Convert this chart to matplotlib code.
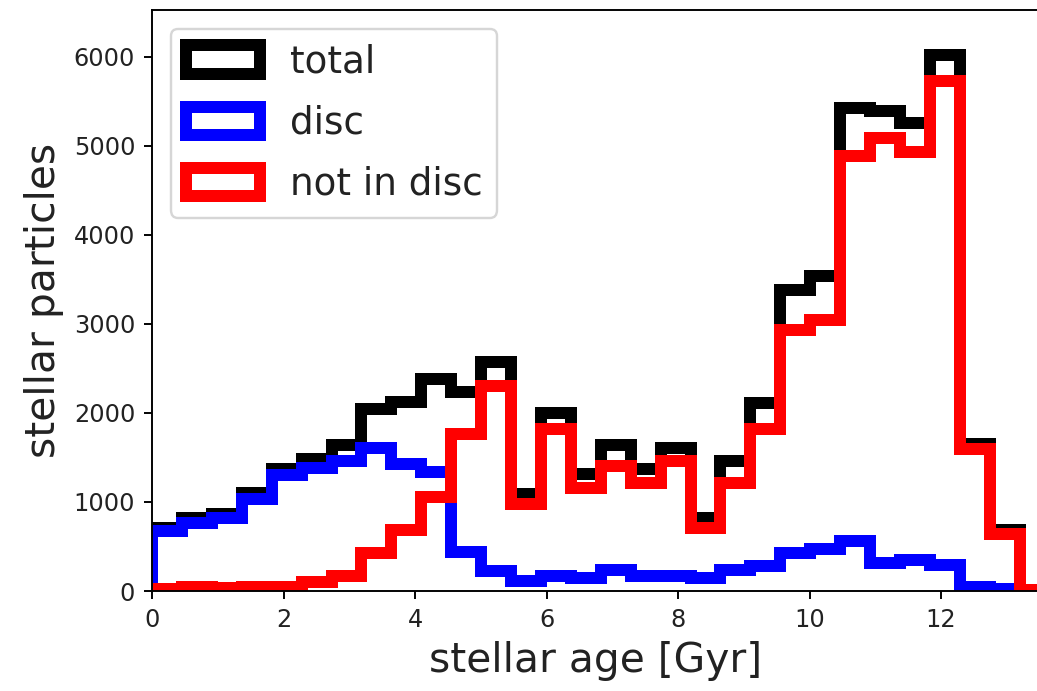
import numpy as np
import matplotlib
matplotlib.use('Agg')
import matplotlib.pyplot as plt

# Rango de edades y numero de bins del histograma
age_min, age_max = 0.0, 13.65
n_bins = 30

# Conteos por bin
total = [704, 824, 861, 1097, 1367, 1487, 1637, 2041, 2124, 2386,
         2236, 2573, 1094, 2004, 1311, 1637, 1367, 1611, 824, 1461,
         2116, 3382, 3539, 5430, 5393, 5254, 6022, 1648, 681, 15]
disc = [678, 760, 820, 1037, 1303, 1386, 1461, 1611, 1431, 1337,
        438, 225, 112, 169, 150, 232, 169, 169, 150, 232,
        281, 431, 468, 562, 318, 348, 288, 48, 19, 0]
not_disc = [26, 48, 30, 48, 48, 101, 169, 431, 681, 1060,
            1760, 2303, 974, 1816, 1161, 1404, 1217, 1461, 712, 1217,
            1816, 2936, 3048, 4885, 5092, 4925, 5725, 1592, 637, 15]

labels = ['total', 'disc', 'not in disc']
colors = ['black', 'blue', 'red']

bins = np.linspace(age_min, age_max, n_bins + 1)
centers = 0.5 * (bins[:-1] + bins[1:])

dpi = 172.8
fig = plt.figure(figsize=(1037 / dpi, 691 / dpi), dpi=dpi)
ax = fig.add_axes([0.1466, 0.1447, 0.856, 0.8408])

# Histogramas tipo escalon, usando los conteos como pesos
for vals, lab, col in zip([total, disc, not_disc], labels, colors):
    ax.hist(centers, bins=bins, weights=vals, histtype='step',
            color=col, lw=5, label=lab)

ax.set_xlim(0, 13.5)
ax.set_ylim(0, 6525)
ax.set_xticks([0, 2, 4, 6, 8, 10, 12])
ax.set_yticks([0, 1000, 2000, 3000, 4000, 5000, 6000])
ax.tick_params(labelcolor='#222222')

ax.set_xlabel('stellar age [Gyr]', fontsize=17, color='#222222')
ax.set_ylabel('stellar particles', fontsize=17, color='#222222')
leg = ax.legend(loc='upper left', fontsize=15.5, labelspacing=0.65,
                handleheight=0.8)
for t in leg.get_texts():
    t.set_color('#222222')

fig.savefig('out.png', dpi=dpi)
